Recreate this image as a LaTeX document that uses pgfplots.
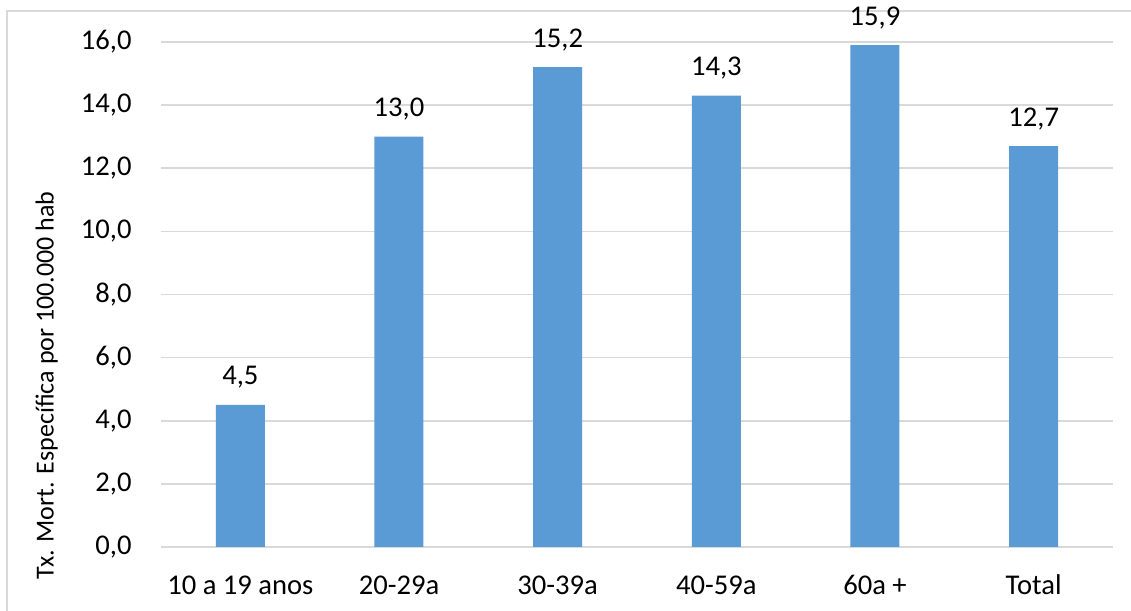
\documentclass[border=0pt]{standalone}
\usepackage{pgfplots}
\pgfplotsset{compat=1.18}
\usepackage{fontspec}
\setmainfont{Carlito}
\definecolor{barblue}{HTML}{5B9BD5}
\definecolor{gridgray}{HTML}{D9D9D9}
\begin{document}
\fontsize{14.3bp}{17bp}\selectfont
\begin{tikzpicture}
\useasboundingbox (0,0) rectangle (565.5bp,305.5bp);
\draw[gridgray, line width=0.8bp] (3.5bp,0) -- (3.5bp,300bp) -- (565.5bp,300bp);
\begin{axis}[
  at={(80.5bp,32bp)}, anchor=south west,
  scale only axis, width=476bp, height=252.5bp,
  ybar, bar width=24.5bp,
  xmin=-0.5, xmax=5.5, ymin=0, ymax=16,
  xtick=data,
  xticklabels={10 a 19 anos, 20-29a, 30-39a, 40-59a, 60a +, Total},
  ytick={0,2,...,16},
  axis line style={draw=none},
  major tick length=0pt,
  ymajorgrids, grid style={gridgray, line width=0.8bp},
  /pgf/number format/.cd, use comma, fixed, fixed zerofill, precision=1, assume math mode=true,
  /pgfplots/.cd,
  yticklabel style={anchor=east, inner sep=0pt, xshift=-14.5bp},
  xticklabel style={anchor=base, inner sep=0pt, yshift=-23.5bp},
  ylabel={Tx. Mort. Específica por 100.000 hab},
  ylabel style={at={(rel axis cs:-0.12,0.32)}, anchor=center, font=\fontsize{13bp}{15bp}\selectfont},
  nodes near coords,
  every node near coord/.append style={anchor=base, inner sep=0pt, yshift=10bp, black},
  tick label style={black},
]
\addplot[fill=barblue, draw=none] coordinates {(0,4.5) (1,13.0) (2,15.2) (3,14.3) (4,15.9) (5,12.7)};
\end{axis}
\end{tikzpicture}
\end{document}
